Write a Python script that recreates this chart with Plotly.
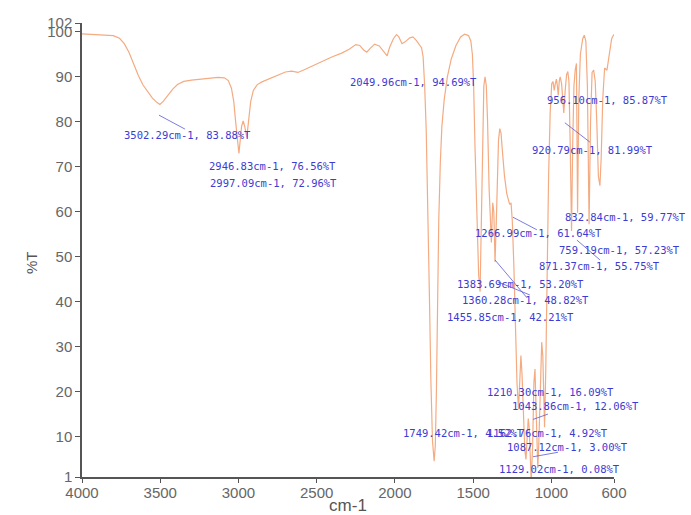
import plotly.graph_objects as go

# FTIR spectrum: wavenumber (cm-1) and transmittance (%T)
wavenumber = [
    4000, 3950, 3880, 3800, 3760, 3730, 3700, 3670, 3640, 3610, 3580, 3550, 3520,
    3502.29, 3480, 3450, 3420, 3390, 3350, 3300, 3240, 3180, 3130, 3090, 3065,
    3045, 3030, 3018, 3008, 2997.09, 2990, 2980, 2970, 2960, 2946.83, 2935, 2922,
    2905, 2880, 2850, 2800, 2750, 2700, 2660, 2620, 2580, 2520, 2460, 2400, 2340,
    2290, 2250, 2225, 2200, 2180, 2160, 2130, 2100, 2075, 2049.96, 2035, 2010,
    1990, 1975, 1955, 1935, 1905, 1885, 1865, 1845, 1830, 1820, 1810, 1800, 1790,
    1780, 1770, 1760, 1749.42, 1742, 1735, 1728, 1720, 1710, 1700, 1685, 1665,
    1640, 1610, 1580, 1555, 1530, 1515, 1505, 1497, 1488, 1475, 1465, 1455.85,
    1448, 1440, 1432, 1424, 1416, 1408, 1398, 1383.69, 1375, 1368, 1360.28, 1352,
    1345, 1338, 1330, 1322, 1312, 1300, 1285, 1266.99, 1258, 1250, 1240, 1230,
    1220, 1210.30, 1202, 1195, 1188, 1180, 1170, 1162.76, 1155, 1148, 1142, 1135,
    1129.02, 1120, 1112, 1105, 1098, 1092, 1087.12, 1080, 1072, 1062, 1055, 1050,
    1043.86, 1036, 1028, 1018, 1008, 998, 990, 982, 975, 968, 962, 956.10, 950,
    944, 935, 928, 920.79, 912, 903, 895, 888, 880, 871.37, 864, 856, 848, 840,
    832.84, 825, 815, 800, 790, 780, 770, 759.19, 750, 740, 730, 720, 710, 700,
    690, 682, 672, 660, 645, 630, 615, 600,
]
transmittance = [
    99.6, 99.5, 99.4, 99.2, 98.6, 97.4, 95.5, 92.8, 90.3, 88.2, 86.6, 85.3, 84.3,
    83.88, 84.6, 86.0, 87.3, 88.3, 89.0, 89.3, 89.5, 89.7, 89.9, 89.8, 89.2,
    87.5, 84.5, 80.0, 76.0, 72.96, 75.5, 79.0, 80.2, 79.0, 76.56, 80.5, 84.5,
    87.0, 88.3, 88.9, 89.6, 90.4, 91.1, 91.3, 91.0, 91.6, 92.6, 93.6, 94.5, 95.3,
    96.2, 97.2, 97.0, 96.0, 95.5, 96.3, 97.3, 96.9, 95.8, 94.69, 96.5, 98.5,
    99.4, 98.9, 97.4, 97.8, 98.7, 98.9, 98.2, 97.3, 96.5, 94.5, 88.0, 78.0, 62.0,
    42.0, 22.0, 9.0, 4.52, 8.0, 20.0, 40.0, 58.0, 71.0, 79.0, 85.0, 90.0,
    94.0, 97.0, 98.9, 99.5, 99.2, 98.0, 95.0, 88.0, 74.0, 56.0, 46.0, 42.21,
    55.0, 75.0, 88.0, 90.0, 88.0, 80.0, 65.0, 53.20, 62.0, 60.0, 48.82, 58.0,
    70.0, 76.0, 78.5, 77.5, 73.0, 68.0, 64.0, 61.64, 62.0, 58.0, 48.0, 33.0,
    22.0, 16.09, 22.0, 28.0, 24.0, 14.0, 7.0, 4.92, 9.0, 14.0, 12.0, 7.0,
    0.08, 8.0, 22.0, 25.0, 15.0, 6.0, 3.00, 9.0, 22.0, 31.0, 28.0, 20.0,
    12.06, 25.0, 45.0, 68.0, 82.0, 88.5, 89.0, 87.0, 88.5, 89.5, 88.0, 85.87, 89.0,
    90.0, 88.5, 86.0, 81.99, 87.0, 90.5, 91.2, 89.0, 75.0, 55.75, 75.0, 88.0, 91.5, 93.0,
    59.77, 85.0, 95.0, 98.5, 99.3, 98.0, 88.0, 57.23, 80.0, 91.0, 91.5, 89.0, 80.0, 68.0,
    65.8, 72.0, 85.0, 92.0, 91.5, 95.0, 98.5, 99.5,
]

# Peak annotations: text and left/middle anchor in plot-area fractions
peak_text = [
    "3502.29cm-1, 83.88%T", "2946.83cm-1, 76.56%T", "2997.09cm-1, 72.96%T",
    "2049.96cm-1, 94.69%T", "1749.42cm-1, 4.52%T", "1162.76cm-1, 4.92%T",
    "1087.12cm-1, 3.00%T", "1129.02cm-1, 0.08%T", "1210.30cm-1, 16.09%T",
    "1043.86cm-1, 12.06%T", "1455.85cm-1, 42.21%T", "1360.28cm-1, 48.82%T",
    "1383.69cm-1, 53.20%T", "1266.99cm-1, 61.64%T", "871.37cm-1, 55.75%T",
    "759.19cm-1, 57.23%T", "832.84cm-1, 59.77%T", "920.79cm-1, 81.99%T",
    "956.10cm-1, 85.87%T",
]
label_px = [0.0752, 0.2350, 0.2368, 0.5000, 0.5996, 0.7575, 0.7951, 0.7801,
            0.7575, 0.8045, 0.6823, 0.7105, 0.7011, 0.7350, 0.8553, 0.8929,
            0.9041, 0.8421, 0.8703]
label_py = [0.7533, 0.6850, 0.6476, 0.8700, 0.0969, 0.0969, 0.0661, 0.0176,
            0.1872, 0.1564, 0.3524, 0.3899, 0.4251, 0.5374, 0.4648, 0.5000,
            0.5727, 0.7203, 0.8304]

# Leader lines from peaks towards their labels
leader_x0 = [3508, 1361, 1342, 1246, 837, 914, 1118, 1118]
leader_y0 = [81.5, 49.3, 44.4, 58.8, 53.7, 79.8, 13.8, 5.5]
leader_x1 = [3342, 1157, 1138, 1093, 690, 754, 1022, 958]
leader_y1 = [78.4, 40.9, 41.5, 56.0, 49.3, 75.5, 15.0, 6.5]

fig = go.Figure()
fig.add_trace(go.Scatter(
    x=wavenumber, y=transmittance, mode="lines",
    line=dict(color="#f4ab82", width=1.2), hoverinfo="skip", showlegend=False,
))

lx, ly = [], []
for a, b, c, d in zip(leader_x0, leader_y0, leader_x1, leader_y1):
    lx += [a, c, None]
    ly += [b, d, None]
fig.add_trace(go.Scatter(
    x=lx, y=ly, mode="lines", line=dict(color="#5a5ad6", width=0.8),
    hoverinfo="skip", showlegend=False,
))

for t, x, y in zip(peak_text, label_px, label_py):
    fig.add_annotation(
        x=x, y=y, xref="paper", yref="paper", text=t, showarrow=False,
        xanchor="left", yanchor="middle",
        font=dict(family="DejaVu Sans Mono", size=10.5, color="#3c3cd2"),
    )

# y-axis title placed explicitly beside the tick labels
fig.add_annotation(
    x=-0.094, y=0.4736, xref="paper", yref="paper", text="%T", showarrow=False,
    textangle=-90, xanchor="center", yanchor="middle",
    font=dict(family="Arial", size=15, color="#555555"),
)

axis_font = dict(family="Arial", size=15, color="#666666")
fig.update_xaxes(
    range=[4000, 600], tickmode="array",
    tickvals=[4000, 3500, 3000, 2500, 2000, 1500, 1000, 600],
    ticks="outside", ticklen=4, tickcolor="#555555", tickfont=axis_font,
    ticklabelstandoff=-3, automargin=False,
    showline=True, linecolor="#555555", linewidth=1.5, showgrid=False, zeroline=False,
    title=dict(text="cm-1", font=dict(family="Arial", size=17, color="#555555"), standoff=8),
)
fig.update_yaxes(
    range=[1, 102], tickmode="array",
    tickvals=[1, 10, 20, 30, 40, 50, 60, 70, 80, 90, 100, 102],
    ticks="outside", ticklen=5, tickcolor="#555555", tickfont=axis_font,
    automargin=False,
    showline=True, linecolor="#555555", linewidth=1.5, showgrid=False, zeroline=False,
)
fig.update_layout(
    width=691, height=515, margin=dict(l=82, r=77, t=23, b=38),
    paper_bgcolor="white", plot_bgcolor="white",
)
fig.write_html("out.html")
